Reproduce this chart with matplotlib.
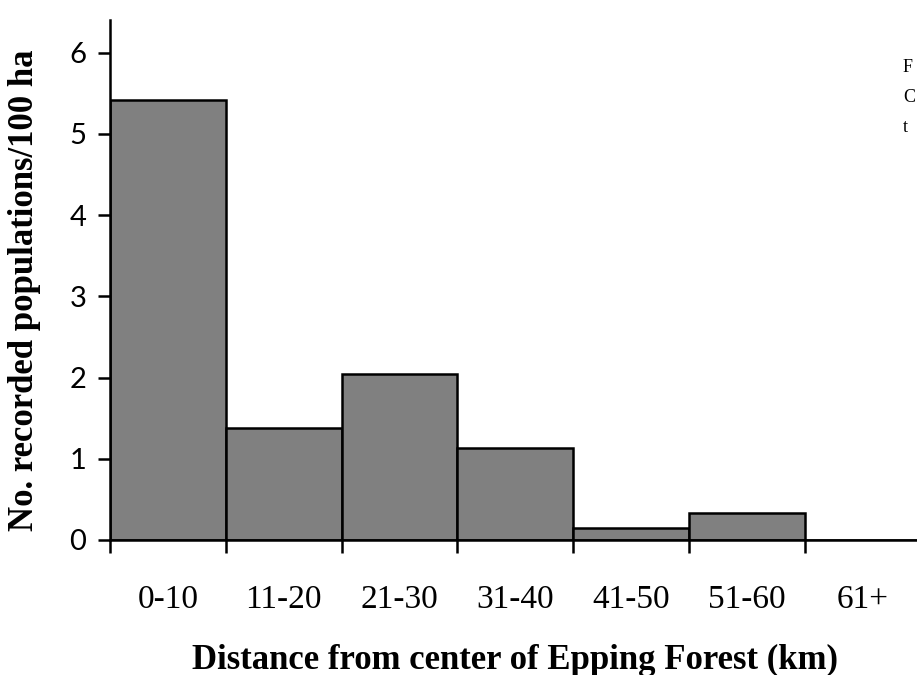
import matplotlib.pyplot as plt
import numpy as np

bins = ['0-10', '11-20', '21-30', '31-40', '41-50', '51-60', '61+']
values = [5.41, 1.38, 2.04, 1.13, 0.15, 0.33, 0.0]

W, H = 917, 675
fig = plt.figure(figsize=(W / 100, H / 100), dpi=100)
ax = fig.add_axes([110 / W, 1 - 540 / H, 1 - 110 / W, (540 - 20) / H])

x = np.arange(len(bins))
ax.bar(x, values, width=1.0, align='edge', color='#808080',
       edgecolor='black', linewidth=1.8, zorder=2)

ax.set_xlim(0, 6.97)
ax.set_ylim(0, 6.4)

for s in ['top', 'right']:
    ax.spines[s].set_visible(False)
for s in ['left', 'bottom']:
    ax.spines[s].set_linewidth(1.8)

ax.set_xticks(x)
ax.set_xticklabels([])
ax.set_xticks(x + 0.5, minor=True)
ax.set_xticklabels(bins, minor=True, family='Liberation Serif', fontsize=24)
ax.tick_params(axis='x', which='major', direction='out', length=9, width=1.8)
ax.tick_params(axis='x', which='minor', length=0, pad=32)

ax.set_yticks(range(7))
ax.set_yticklabels([str(i) for i in range(7)], family='Lato', fontsize=21)
ax.tick_params(axis='y', direction='out', length=9, width=1.8, pad=8)

fig.text(25 / W, 1 - 290 / H, 'No. recorded populations/100 ha',
         rotation=90, ha='center', va='center', family='Liberation Serif',
         fontweight='bold', fontsize=25)
fig.text(515 / W, 1 - 660 / H, 'Distance from center of Epping Forest (km)',
         ha='center', va='center', family='Liberation Serif',
         fontweight='bold', fontsize=25)

# caption letters at the right edge
for yy, t in zip([68, 97, 127], ['F', 'C', 't']):
    fig.text(903 / W, 1 - yy / H, t, ha='left', va='center',
             family='Liberation Serif', fontsize=13)

fig.savefig('out.png', dpi=100)
